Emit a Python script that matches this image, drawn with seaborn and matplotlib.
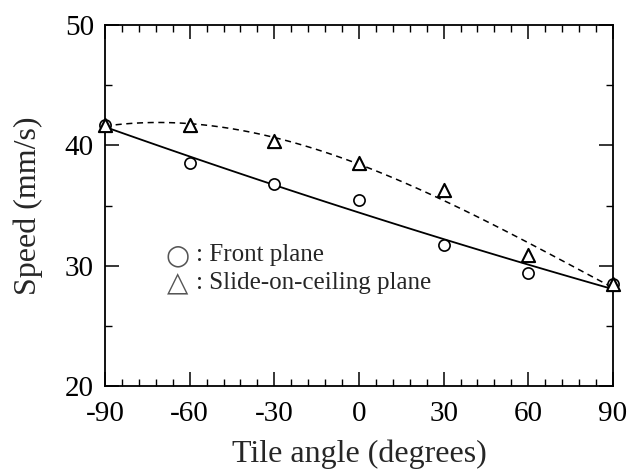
import numpy as np
import pandas as pd
import matplotlib
matplotlib.use("Agg")
import matplotlib.pyplot as plt
import seaborn as sns
from matplotlib.ticker import MultipleLocator

angles = [-90, -60, -30, 0, 30, 60, 90]
front_speed = [41.7, 38.5, 36.8, 35.5, 31.7, 29.4, 28.5]
ceiling_speed = [41.7, 41.7, 40.4, 38.5, 36.3, 30.9, 28.5]
x_ticks = [-90, -60, -30, 0, 30, 60, 90]
y_ticks = [20, 30, 40, 50]

df = pd.DataFrame({"angle": angles, "front": front_speed, "ceiling": ceiling_speed})

sns.set_style("ticks")
plt.rcParams["font.family"] = ["Liberation Serif", "DejaVu Sans"]

fig = plt.figure(figsize=(6.27, 4.72), dpi=100)
ax = fig.add_axes([0.1675, 0.182, 0.81, 0.765])

sns.regplot(data=df, x="angle", y="front", order=2, ci=None, ax=ax,
            scatter=False, truncate=True,
            line_kws=dict(color="black", lw=1.3, ls="-"))
sns.regplot(data=df, x="angle", y="ceiling", order=3, ci=None, ax=ax,
            scatter=False, truncate=True,
            line_kws=dict(color="black", lw=1.1, ls=(0, (4, 3))))
sns.scatterplot(data=df, x="angle", y="front", marker="o", s=65,
                facecolor="white", edgecolor="black", linewidth=1.2, ax=ax,
                zorder=5, clip_on=False)
sns.scatterplot(data=df, x="angle", y="ceiling", marker="^", s=90,
                facecolor="white", edgecolor="black", linewidth=1.5, ax=ax,
                zorder=6, clip_on=False)

ax.set_xlim(-90, 90)
ax.set_ylim(20, 50)
ax.set_xticks(x_ticks)
ax.set_yticks(y_ticks)
ax.set_xticklabels([str(t) for t in x_ticks])
ax.xaxis.set_minor_locator(MultipleLocator(6))
ax.yaxis.set_minor_locator(MultipleLocator(5))
ax.tick_params(which="both", direction="in", top=True, right=True, colors="black", labelsize=21)
ax.tick_params(which="major", length=10, width=1.1)
ax.tick_params(which="minor", length=5, width=1.0)
ax.tick_params(axis="x", pad=11)
ax.tick_params(axis="y", pad=8)
for s in ax.spines.values():
    s.set_linewidth(1.3)
    s.set_color("black")

ax.set_xlabel("Tile angle (degrees)", fontsize=23, labelpad=9)
ax.set_ylabel("Speed (mm/s)", fontsize=23, labelpad=16)

ax.text(0.143, 0.363, "○", transform=ax.transAxes, fontsize=20, color="#555555",
        family=["DejaVu Sans"], va="center", ha="center")
ax.text(0.18, 0.363, ": Front plane", transform=ax.transAxes, fontsize=18, va="center")
ax.text(0.143, 0.283, "△", transform=ax.transAxes, fontsize=20, color="#555555",
        family=["DejaVu Sans"], va="center", ha="center")
ax.text(0.18, 0.285, ": Slide-on-ceiling plane", transform=ax.transAxes, fontsize=18, va="center")

fig.savefig("out.png", dpi=100)
